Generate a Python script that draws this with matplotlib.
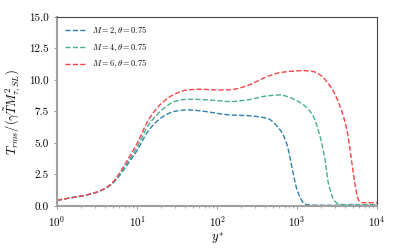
import numpy as np
import matplotlib
matplotlib.use("Agg")
import matplotlib.pyplot as plt

plt.rcParams["font.family"] = "serif"
plt.rcParams["font.serif"] = ["cmr10", "DejaVu Serif"]
plt.rcParams["mathtext.fontset"] = "cm"
plt.rcParams["axes.formatter.use_mathtext"] = True

# y* positions and T_rms values
y_m2 = [1, 2, 3, 4, 5, 6.4, 8, 10, 13.8, 20.3, 30, 42, 61, 100, 145, 233, 420, 614, 740, 860, 1000, 1200, 1320, 1600, 3000, 10000]
t_m2 = [0.45, 0.78, 1.05, 1.38, 1.82, 2.62, 3.50, 4.40, 5.95, 7.02, 7.52, 7.62, 7.55, 7.35, 7.22, 7.17, 6.96, 6.03, 4.97, 3.12, 1.27, 0.26, 0.10, 0.06, 0.05, 0.05]

y_m4 = [1, 2, 3, 4, 5, 6.4, 8, 10, 13.8, 20.3, 30, 42, 61, 100, 145, 233, 420, 614, 740, 1000, 1300, 1600, 1940, 2240, 2460, 2990, 3460, 5000, 10000]
t_m4 = [0.45, 0.78, 1.05, 1.38, 1.85, 2.70, 3.65, 4.65, 6.40, 7.60, 8.30, 8.46, 8.45, 8.35, 8.28, 8.40, 8.73, 8.81, 8.70, 8.35, 7.85, 7.09, 5.50, 3.65, 1.80, 0.34, 0.12, 0.10, 0.10]

y_m6 = [1, 2, 3, 4, 5, 6.4, 8, 10, 13.8, 20.3, 30, 42, 61, 100, 145, 233, 420, 614, 900, 1200, 1600, 1940, 2700, 3400, 4200, 5040, 5850, 6440, 10000]
t_m6 = [0.45, 0.78, 1.05, 1.40, 1.90, 2.85, 3.90, 4.95, 6.80, 8.15, 8.90, 9.20, 9.26, 9.20, 9.22, 9.52, 10.26, 10.58, 10.70, 10.74, 10.66, 10.40, 9.34, 8.00, 6.03, 2.60, 0.48, 0.26, 0.25]

labels = [r"$M=2,\theta=0.75$", r"$M=4,\theta=0.75$", r"$M=6,\theta=0.75$"]
colors = ["#2f7fae", "#45b08c", "#f7434b"]


def smooth(xs, ys):
    # piecewise cubic hermite through the read points, in log x
    lx = np.log10(xs)
    grid = np.linspace(lx[0], lx[-1], 500)
    d = np.diff(ys) / np.diff(lx)
    m = np.zeros(len(ys))
    m[1:-1] = np.where(d[:-1] * d[1:] > 0, 2 / (1 / d[:-1] + 1 / d[1:]), 0)
    m[0], m[-1] = d[0], d[-1]
    out = np.empty_like(grid)
    for i, g in enumerate(grid):
        k = min(np.searchsorted(lx, g, side="right") - 1, len(lx) - 2)
        h = lx[k + 1] - lx[k]
        t = (g - lx[k]) / h
        h00 = 2 * t**3 - 3 * t**2 + 1
        h10 = t**3 - 2 * t**2 + t
        h01 = -2 * t**3 + 3 * t**2
        h11 = t**3 - t**2
        out[i] = h00 * ys[k] + h10 * h * m[k] + h01 * ys[k + 1] + h11 * h * m[k + 1]
    return 10**grid, out


fig = plt.figure(figsize=(3.99, 2.49), dpi=100)
ax = fig.add_axes([0.143, 0.173, 0.802, 0.759])
for xs, ys, lab, c in zip([y_m2, y_m4, y_m6], [t_m2, t_m4, t_m6], labels, colors):
    sx, sy = smooth(np.array(xs, float), np.array(ys, float))
    ax.plot(sx, sy, "--", color=c, lw=1.0, label=lab)

ax.set_xscale("log")
ax.set_xlim(1, 1e4)
ax.set_ylim(0, 15)
ax.set_yticks([0, 2.5, 5, 7.5, 10, 12.5, 15])
ax.set_yticklabels(["0.0", "2.5", "5.0", "7.5", "10.0", "12.5", "15.0"])
ax.tick_params(labelsize=8, length=2.5, width=0.6, color="#888888")
ax.tick_params(which="minor", length=1.5, width=0.5, color="#888888")
ax.set_xlabel(r"$y^{*}$", fontsize=9, labelpad=1)
ax.set_ylabel(r"$T_{rms}/(\gamma\tilde{T}M^2_{\tau,SL})$", fontsize=9, labelpad=4)
for s in ["left", "bottom"]:
    ax.spines[s].set_color("#a0a0a0")
    ax.spines[s].set_linewidth(1.5)
for s in ["top", "right"]:
    ax.spines[s].set_color("#444444")
    ax.spines[s].set_linewidth(0.8)
ax.legend(loc="upper left", fontsize=6, frameon=False, handlelength=2.5)
fig.savefig("out.png", dpi=100)
